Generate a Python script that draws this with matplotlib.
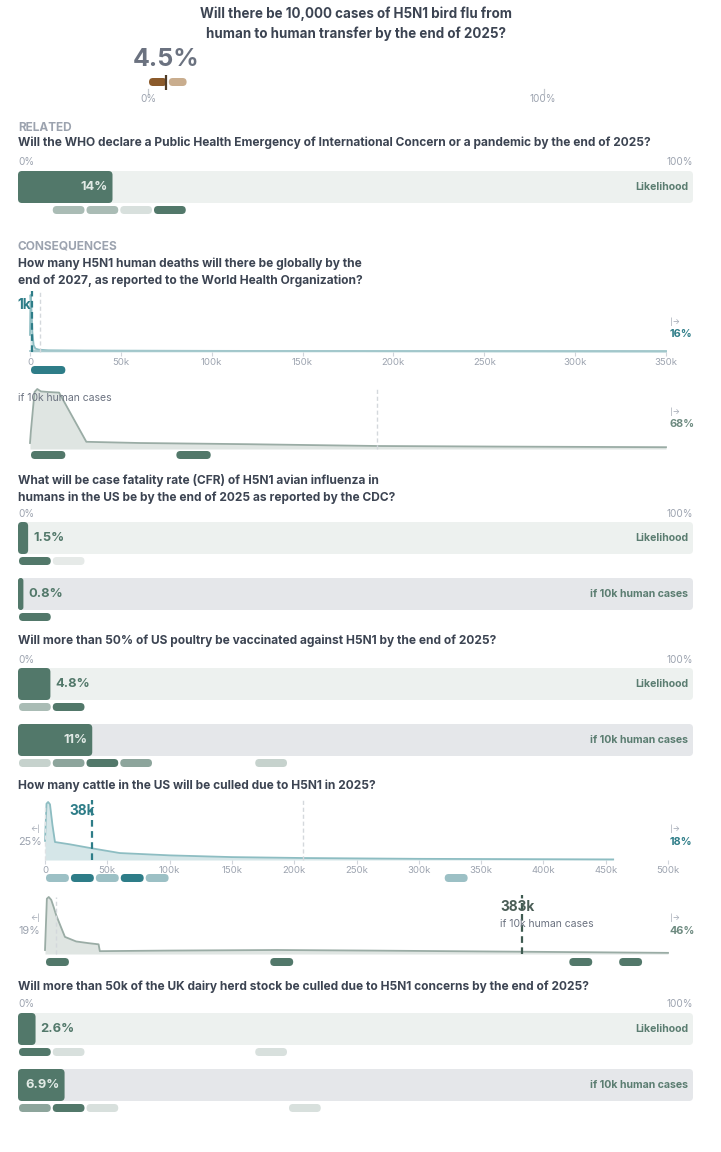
import matplotlib
matplotlib.use('Agg')
import matplotlib.pyplot as plt
from matplotlib.patches import FancyBboxPatch

plt.rcParams['font.family'] = ['Inter', 'DejaVu Sans']

# ---------------- data ----------------
main_q = "Will there be 10,000 cases of H5N1 bird flu from\nhuman to human transfer by the end of 2025?"
main_prob = 4.5
main_bins = [0, 5]
main_bin_colors = ['#8b5a2b', '#c9ad8e']

who_q = "Will the WHO declare a Public Health Emergency of International Concern or a pandemic by the end of 2025?"
who_prob = 14
who_bins = [5, 10, 15, 20]
who_levels = [3, 3, 1, 5]

deaths_q = "How many H5N1 human deaths will there be globally by the\nend of 2027, as reported to the World Health Organization?"
deaths_ticks = [0, 50, 100, 150, 200, 250, 300, 350]
deaths_x = [0, 0.3, 0.8, 1.3, 2, 3, 5, 10, 30, 100, 200, 350]
deaths_y = [0.3, 1.0, 0.75, 0.35, 0.12, 0.06, 0.04, 0.03, 0.025, 0.02, 0.015, 0.01]
deaths_cond_x = [0, 0.5, 2.5, 4, 6, 10, 16, 31, 60, 120, 191, 260, 350]
deaths_cond_y = [0.1, 0.3, 0.95, 1.0, 0.96, 0.95, 0.94, 0.12, 0.1, 0.08, 0.05, 0.04, 0.03]
deaths_median = 1
deaths_ref = 5.5
deaths_cond_ref = 191
deaths_above = 16
deaths_cond_above = 68
deaths_bins = [0]
deaths_bin_colors = ['#2e7d88']
deaths_cond_bins = [0, 80]
deaths_cond_bin_colors = ['#52786a', '#52786a']

cfr_q = "What will be case fatality rate (CFR) of H5N1 avian influenza in\nhumans in the US be by the end of 2025 as reported by the CDC?"
cfr_prob = 1.5
cfr_cond_prob = 0.8
cfr_bins = [0, 5]
cfr_levels = [5, 0]
cfr_cond_bins = [0]
cfr_cond_levels = [5]

poultry_q = "Will more than 50% of US poultry be vaccinated against H5N1 by the end of 2025?"
poultry_prob = 4.8
poultry_cond_prob = 11
poultry_bins = [0, 5]
poultry_levels = [3, 5]
poultry_cond_bins = [0, 5, 10, 15, 35]
poultry_cond_levels = [2, 4, 5, 4, 2]

cattle_q = "How many cattle in the US will be culled due to H5N1 in 2025?"
cattle_ticks = [0, 50, 100, 150, 200, 250, 300, 350, 400, 450, 500]
cattle_x = [0, 1.2, 2.5, 4, 6, 8, 20, 38, 60, 100, 150, 208, 300, 456]
cattle_y = [0.33, 0.97, 1.0, 0.96, 0.6, 0.31, 0.27, 0.2, 0.12, 0.08, 0.05, 0.034, 0.02, 0.01]
cattle_cond_x = [0, 1.5, 3, 5, 7, 9, 16, 25, 35, 43, 44, 100, 186, 260, 383, 500]
cattle_cond_y = [0.07, 0.97, 1.0, 0.95, 0.82, 0.68, 0.3, 0.22, 0.19, 0.17, 0.05, 0.06, 0.07, 0.06, 0.04, 0.02]
cattle_median = 38
cattle_cond_median = 383
cattle_ref = 207
cattle_ref0 = 0
cattle_cond_ref = 9
cattle_below, cattle_above = 25, 18
cattle_cond_below, cattle_cond_above = 19, 46
cattle_bins = [0, 20, 40, 60, 80, 320]
cattle_bin_colors = ['#9cc0c5', '#2e7d88', '#9cc0c5', '#2e7d88', '#9cc0c5', '#9cc0c5']
cattle_cond_bins = [0, 180, 420, 460]
cattle_cond_bin_colors = ['#52786a'] * 4

uk_q = "Will more than 50k of the UK dairy herd stock be culled due to H5N1 concerns by the end of 2025?"
uk_prob = 2.6
uk_cond_prob = 6.9
uk_bins = [0, 5, 35]
uk_levels = [5, 1, 1]
uk_cond_bins = [0, 5, 10, 40]
uk_cond_levels = [4, 5, 1, 1]

# ---------------- style ----------------
W, H = 721, 1152
DARK = '#3c4452'
GRAY = '#9ca3af'
GREEN = '#52786a'
TEAL = '#2e7d88'
LEVEL = {0: '#e6eae8', 1: '#d8e0dd', 2: '#c6d2cd', 3: '#aabcb5', 4: '#8da59c', 5: '#52786a'}
BG_LIKE = '#edf1ef'
BG_COND = '#e5e7ea'
QSIZE = 8.6

fig = plt.figure(figsize=(W / 100, H / 100), dpi=100)
fig.patch.set_facecolor('white')


def ax_px(x0, y0, x1, y1, xlim, ylim, off=True):
    ax = fig.add_axes([x0 / W, 1 - y1 / H, (x1 - x0) / W, (y1 - y0) / H])
    ax.set_xlim(*xlim)
    ax.set_ylim(*ylim)
    ax.patch.set_alpha(0)
    if off:
        ax.set_axis_off()
    return ax


def txt(x, y, s, size=8, color=DARK, weight='normal', ha='left', va='center', **kw):
    fig.text(x / W, 1 - y / H, s, fontsize=size, color=color, fontweight=weight,
             ha=ha, va=va, **kw)


def rbox(ax, x, y, w, h, color, upp, r=4):
    wpx = w / upp
    rr = min(r, wpx / 2, h / 2)
    p = FancyBboxPatch((x, y), w, h, boxstyle=f"round,pad=0,rounding_size={rr * upp}",
                       mutation_aspect=1 / upp, fc=color, ec='none', lw=0, clip_on=False)
    ax.add_patch(p)


def pills(x0, x1, yc, xlim, lows, width, colors):
    ax = ax_px(x0, yc - 4, x1, yc + 4, xlim, (8, 0))
    upp = (xlim[1] - xlim[0]) / (x1 - x0)
    for lo, c in zip(lows, colors):
        rbox(ax, lo + upp, 0, width - 2 * upp, 8, c, upp)


def bar_row(ytop, value, label, bg, bins, levels):
    x0, x1 = 18, 693
    ax = ax_px(x0, ytop, x1, ytop + 32, (0, 100), (32, 0))
    upp = 100 / (x1 - x0)
    rbox(ax, 0, 0, 100, 32, bg, upp)
    rbox(ax, 0, 0, value, 32, GREEN, upp)
    s = f'{value:g}%'
    if value > 6:
        ax.text(value - 5 * upp, 16, s, ha='right', va='center', fontsize=9.3,
                fontweight='bold', color='#e2eae6')
    else:
        ax.text(value + 5 * upp, 16, s, ha='left', va='center', fontsize=9.3,
                fontweight='bold', color=GREEN)
    ax.text(100 - 5 * upp, 16, label, ha='right', va='center', fontsize=7.6,
            fontweight='bold', color='#5b7d71')
    pills(x0, x1, ytop + 39, (0, 100), bins, 5, [LEVEL[l] for l in levels])


def scale_labels(y):
    txt(18, y, '0%', size=7.2, color=GRAY)
    txt(693, y, '100%', size=7.2, color=GRAY, ha='right')


def density(x0, x1, ytop, ybase, xlim, xs, ys, fill, line, ticks=None):
    ax = ax_px(x0, ytop, x1, ybase, xlim, (0, 1), off=False)
    ax.fill_between(xs, ys, 0, color=fill, lw=0, clip_on=False)
    ax.plot(xs, ys, color=line, lw=1.3, clip_on=False, solid_joinstyle='round')
    for sp in ax.spines.values():
        sp.set_visible(False)
    ax.set_yticks([])
    if ticks is not None:
        ax.set_xticks(ticks)
        ax.set_xticklabels([f'{t}k' if t else '0' for t in ticks])
        ax.tick_params(axis='x', length=3, width=0.8, color='#d1d5db', labelsize=6.9,
                       labelcolor=GRAY, pad=1.2)
    else:
        ax.set_xticks([])
    return ax


def vdash(ax, x, color, lw=1.0, top=1.05, dashes=(3, 2)):
    ax.plot([x, x], [0, top], color=color, lw=lw, dashes=dashes, clip_on=False)


# ---------------- header question ----------------
txt(356, 14, main_q.split('\n')[0], size=9.65, weight='bold', ha='center')
txt(356, 34, main_q.split('\n')[1], size=9.65, weight='bold', ha='center')
txt(166, 60, f'{main_prob:g}%', size=18, weight='bold', color='#6b7280', ha='center')
ax_top = ax_px(148, 74, 544, 94, (0, 100), (20, 0))
upp_top = 100 / (544 - 148)
for lo, c in zip(main_bins, main_bin_colors):
    rbox(ax_top, lo + upp_top, 4, 5 - 2 * upp_top, 8, c, upp_top)
ax_top.plot([main_prob, main_prob], [1, 16], color='#4f3b27', lw=1.6, solid_capstyle='butt')
for t in (0, 100):
    ax_top.plot([t, t], [15, 20], color='#c4c8ce', lw=0.9, clip_on=False)
txt(148, 99, '0%', size=7.2, color=GRAY, ha='center')
txt(543, 99, '100%', size=7.2, color=GRAY, ha='center')

# ---------------- related ----------------
txt(18, 128, 'RELATED', size=8.5, weight='bold', color=GRAY)
txt(18, 143, who_q, size=QSIZE, weight='bold')
scale_labels(162)
bar_row(171, who_prob, 'Likelihood', BG_LIKE, who_bins, who_levels)

# ---------------- consequences: deaths ----------------
txt(18, 246, 'CONSEQUENCES', size=8.6, weight='bold', color=GRAY)
txt(18, 264, deaths_q.split('\n')[0], size=QSIZE, weight='bold')
txt(18, 281, deaths_q.split('\n')[1], size=QSIZE, weight='bold')

ax_d = density(30, 666, 295, 352, (0, 350), deaths_x, deaths_y, '#d5e6e8', '#8dbdc2', deaths_ticks)
ax_d.plot([0, 350], [0.01, 0.01], color='#a5c9cd', lw=1.3, clip_on=False)
vdash(ax_d, deaths_ref, '#d4d8dc', top=1.07)
vdash(ax_d, deaths_median, TEAL, lw=1.6, top=1.07)
txt(31, 305, f'{deaths_median}k', size=9.8, weight='bold', color=TEAL, ha='right')
txt(670, 322, '|→', size=5.5, color=GRAY)
txt(670, 334, f'{deaths_above}%', size=7.8, weight='bold', color=TEAL)
pills(30, 666, 370, (0, 350), deaths_bins, 20, deaths_bin_colors)

ax_dc = density(30, 666, 389, 449, (0, 350), deaths_cond_x, deaths_cond_y, '#dfe5e2', '#9aaca5')
vdash(ax_dc, deaths_cond_ref, '#d4d8dc', top=1.0)
txt(18, 398, 'if 10k human cases', size=7.5, color='#6b7280')
txt(670, 412, '|→', size=5.5, color=GRAY)
txt(670, 424, f'{deaths_cond_above}%', size=7.8, weight='bold', color='#6d8a80')
pills(30, 666, 455, (0, 350), deaths_cond_bins, 20, deaths_cond_bin_colors)

# ---------------- CFR ----------------
txt(18, 480, cfr_q.split('\n')[0], size=QSIZE, weight='bold')
txt(18, 498, cfr_q.split('\n')[1], size=QSIZE, weight='bold')
scale_labels(514)
bar_row(522, cfr_prob, 'Likelihood', BG_LIKE, cfr_bins, cfr_levels)
bar_row(578, cfr_cond_prob, 'if 10k human cases', BG_COND, cfr_cond_bins, cfr_cond_levels)

# ---------------- poultry ----------------
txt(18, 641, poultry_q, size=QSIZE, weight='bold')
scale_labels(660)
bar_row(668, poultry_prob, 'Likelihood', BG_LIKE, poultry_bins, poultry_levels)
bar_row(724, poultry_cond_prob, 'if 10k human cases', BG_COND, poultry_cond_bins, poultry_cond_levels)

# ---------------- cattle ----------------
txt(18, 786, cattle_q, size=QSIZE, weight='bold')
ax_c = density(45, 668, 802, 860, (0, 500), cattle_x, cattle_y, '#d5e6e8', '#8dbdc2', cattle_ticks)
vdash(ax_c, cattle_ref0, '#dde1e4', top=0.95)
vdash(ax_c, cattle_ref, '#d4d8dc', top=1.03)
vdash(ax_c, cattle_median, TEAL, lw=1.6, top=1.03)
txt(95, 811, f'{cattle_median}k', size=9.8, weight='bold', color=TEAL, ha='right')
txt(30, 829, '←|', size=5.5, color=GRAY)
txt(18, 842, f'{cattle_below}%', size=7.8, color=GRAY)
txt(670, 829, '|→', size=5.5, color=GRAY)
txt(670, 842, f'{cattle_above}%', size=7.8, weight='bold', color=TEAL)
pills(45, 668, 878, (0, 500), cattle_bins, 20, cattle_bin_colors)

ax_cc = density(45, 668, 897, 954, (0, 500), cattle_cond_x, cattle_cond_y, '#dfe5e2', '#9aaca5')
vdash(ax_cc, cattle_cond_ref, '#d4d8dc', top=1.0)
vdash(ax_cc, cattle_cond_median, '#3f5b51', lw=1.6, top=1.03)
txt(500, 907, f'{cattle_cond_median}k', size=9.8, weight='bold', color='#4b5e57')
txt(500, 924, 'if 10k human cases', size=7.5, color='#6b7280')
txt(30, 918, '←|', size=5.5, color=GRAY)
txt(18, 931, f'{cattle_cond_below}%', size=7.8, color=GRAY)
txt(670, 918, '|→', size=5.5, color=GRAY)
txt(670, 931, f'{cattle_cond_above}%', size=7.8, weight='bold', color='#6d8a80')
pills(45, 668, 962, (0, 500), cattle_cond_bins, 20, cattle_cond_bin_colors)

# ---------------- UK ----------------
txt(18, 987, uk_q, size=QSIZE, weight='bold')
scale_labels(1004)
bar_row(1013, uk_prob, 'Likelihood', BG_LIKE, uk_bins, uk_levels)
bar_row(1069, uk_cond_prob, 'if 10k human cases', BG_COND, uk_cond_bins, uk_cond_levels)

fig.savefig('out.png', dpi=100, facecolor='white')
